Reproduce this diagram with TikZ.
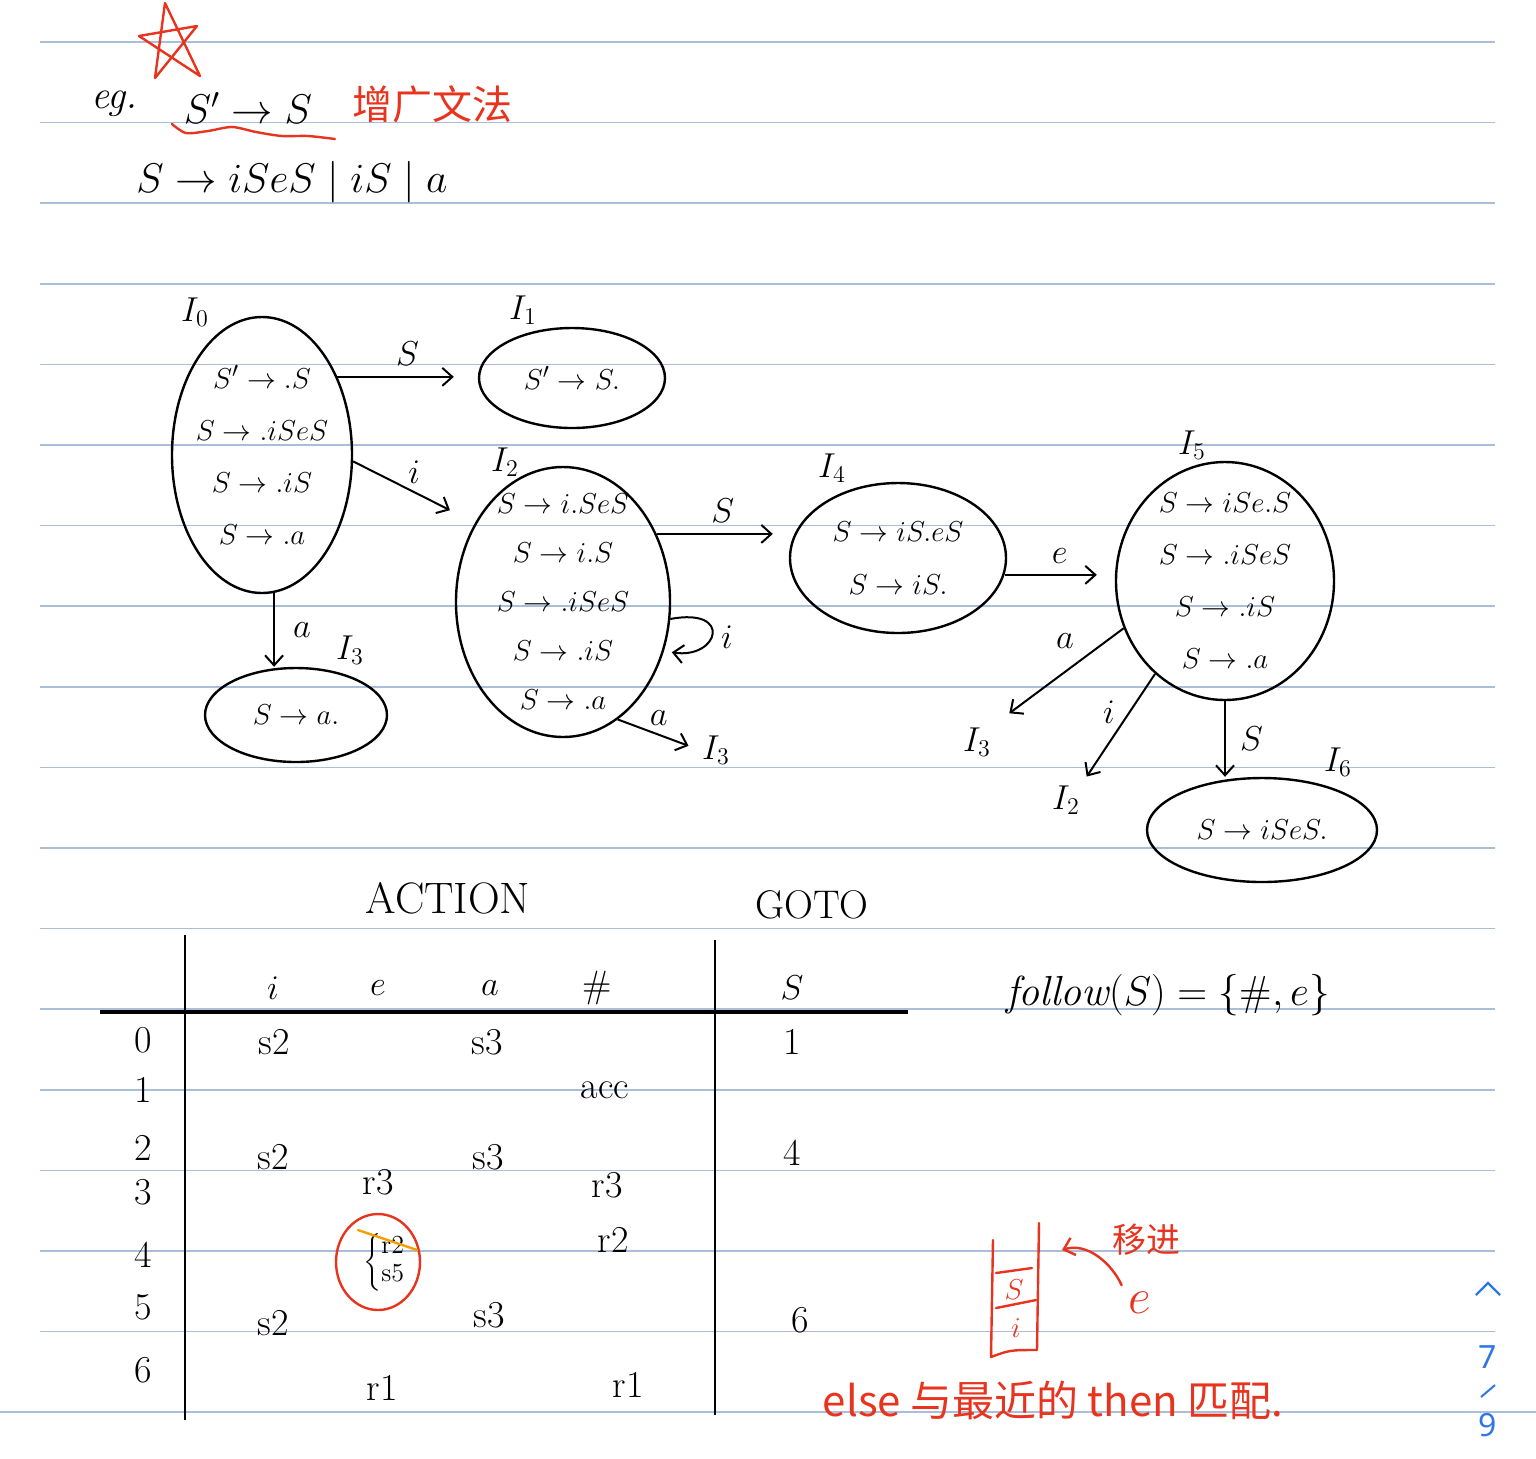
\documentclass[tikz,border=0pt]{standalone}
\usepackage{amsmath}
\usepackage{fontspec}
\usepackage{tikz}
\usetikzlibrary{positioning}
\usetikzlibrary{calc}
\usetikzlibrary{arrows.meta,shapes}
\newfontfamily\cjk{Noto Sans CJK SC}
\newfontfamily\uisans{Noto Sans}
\definecolor{rule}{RGB}{170,190,218}
\definecolor{pen}{RGB}{232,52,30}
\definecolor{hilite}{RGB}{245,160,0}
\definecolor{pageblue}{RGB}{48,118,228}
\def\itemfont{\fontsize{15}{26}\selectfont}

\tikzset{
  state/.style={draw, ellipse, line width=1.2pt, inner sep=0pt},
  items/.style={align=center, font=\itemfont, inner sep=0pt},
  tag/.style={font=\fontsize{17}{19}\selectfont, inner sep=1pt},
  arr/.style={-{Straight Barb[length=5pt,width=9pt]}, line width=1pt},
  redpen/.style={draw=pen, line width=1.2pt, line cap=round, line join=round},
  cell/.style={font=\fontsize{19}{21}\selectfont, inner sep=1pt},
}

\begin{document}
\begin{tikzpicture}[x=0.5pt, y=-0.5pt]

\useasboundingbox (0,0) rectangle (1536,1458);
\fill[white] (0,0) rectangle (1536,1458);

% ruled paper
\foreach \k in {0,...,16}
  \draw[rule, line width=0.8pt] (40, 42+80.6*\k) -- (1495, 42+80.6*\k);
\draw[rule, line width=0.8pt] (0,1412) -- (1536,1412);

% heading
\draw[redpen] (165,3) -- (200,76) -- (139,36) -- (197,26) -- (155,78) -- cycle;
\node[font=\fontsize{20}{22}\selectfont] (eg) at (114,104) {\itshape eg.};
\node[font=\fontsize{21}{24}\selectfont] (aug) at (248,108) {$S'\to S$};
\draw[redpen] plot[smooth] coordinates {(172,124) (186,133) (208,131) (232,127)
  (256,132) (282,136) (308,136) (335,139)};
\node[font=\cjk\fontsize{20}{22}\selectfont, text=pen] (augname) at (432,104) {增广文法};
\node[font=\fontsize{21}{24}\selectfont] (grammar) at (292,182) {$S\to iSeS\mid iS\mid a$};

% item sets
\node[state, minimum width=90pt, minimum height=138pt] (I0) at (262,455) {};
\node[items] (I0t) at (I0) {$S'\to .S$\\$S\to .iSeS$\\$S\to .iS$\\$S\to .a$};
\node[tag] (I0l) at (195,312) {$I_0$};

\node[state, font=\itemfont, minimum width=93pt, minimum height=50pt] (I1) at (572,378) {$S'\to S.$};
\node[tag] (I1l) at (523,310) {$I_1$};

\node[state, minimum width=107pt, minimum height=135pt] (I2) at (563,602) {};
\node[items, font=\fontsize{15}{24.5}\selectfont] (I2t) at (I2)
  {$S\to i.SeS$\\$S\to i.S$\\$S\to .iSeS$\\$S\to .iS$\\$S\to .a$};
\node[tag] (I2l) at (505,462) {$I_2$};

\node[state, font=\itemfont, minimum width=91pt, minimum height=47pt] (I3) at (296,715) {$S\to a.$};
\node[tag] (I3l) at (350,650) {$I_3$};

\node[state, minimum width=108pt, minimum height=75pt] (I4) at (898,558) {};
\node[items, font=\fontsize{15}{26.5}\selectfont] (I4t) at (I4) {$S\to iS.eS$\\$S\to iS.$};
\node[tag] (I4l) at (832,468) {$I_4$};

\node[state, minimum width=109pt, minimum height=119pt] (I5) at (1225,581) {};
\node[items] (I5t) at (I5) {$S\to iSe.S$\\$S\to .iSeS$\\$S\to .iS$\\$S\to .a$};
\node[tag] (I5l) at (1192,445) {$I_5$};

\node[state, font=\itemfont, minimum width=115pt, minimum height=52pt] (I6) at (1262,830) {$S\to iSeS.$};
\node[tag] (I6l) at (1338,762) {$I_6$};

% targets named only by their labels
\node[tag] (to3a) at (716,750) {$I_3$};
\node[tag] (to3b) at (977,742) {$I_3$};
\node[tag] (to2) at (1066,800) {$I_2$};

% transitions
\draw[arr, shorten >=12pt] (I0.46) -- (I0.46 -| I1.west) node[midway, above=4pt, tag] (eI0S) {$S$};
\draw[arr, shorten >=14pt] (I0.-4) -- (I2.138) node[midway, above=3pt, tag] (eI0i) {$i$};
\draw[arr] (I0.-85) -- (I0.-85 |- I3.north) node[midway, right=8pt, tag] (eI0a) {$a$};
\draw[arr, shorten >=8pt] (I2.36) -- (I2.36 -| I4.west) node[midway, above=4pt, tag] (eI2S) {$S$};
\draw[arr, shorten >=4pt] (I2.-9) .. controls +(63,-12) and +(55,8) .. (I2.-26)
  node[pos=0.55, right=4pt, tag] (eI2i) {$i$};
\draw[arr, shorten >=6pt] (I2.-65) -- (to3a.west) node[midway, above=3pt, tag] (eI2a) {$a$};
\draw[arr, shorten >=9pt] (I4.-9) -- (I4.-9 -| I5.west) node[midway, above=4pt, tag] (eI4e) {$e$};
\draw[arr, shorten >=10pt] (I5.205) -- (to3b.north east) node[pos=0.45, above=10pt, tag] (eI5a) {$a$};
\draw[arr, shorten >=4pt] (I5.233) -- (to2.north east) node[pos=0.35, left=6pt, tag] (eI5i) {$i$};
\draw[arr] (I5.south) -- (I5.south |- I6.north) node[midway, right=6pt, tag] (eI5S) {$S$};

% parsing table
\node[font=\fontsize{22}{24}\selectfont] (action) at (448,898) {ACTION};
\node[font=\fontsize{20}{22}\selectfont] (goto) at (812,905) {GOTO};
\draw[line width=1pt] (185,935) -- (185,1420);
\draw[line width=1pt] (715,940) -- (715,1415);
\draw[line width=1.6pt] (100,1012) -- (908,1012);

\foreach \t/\x [count=\k] in {i/273, e/378, a/490, \#/597, S/792}
  \node[cell] (head\k) at (\x,988) {$\t$};
\foreach \y [count=\k from 0] in {1040,1090,1148,1192,1255,1307,1370}
  \node[cell] (row\k) at (143,\y) {\k};
\foreach \t/\x/\y [count=\k] in {s2/274/1042, s3/487/1042, 1/792/1042, acc/605/1090,
    s2/273/1157, s3/488/1157, 4/792/1153, r3/378/1182, r3/607/1185, r2/613/1240,
    s2/273/1323, s3/489/1315, 6/800/1320, r1/382/1388, r1/628/1385}
  \node[cell] (entry\k) at (\x,\y) {\t};

% shift/reduce conflict
\node[cell, font=\fontsize{13}{14}\selectfont] (conflict) at (385,1262)
  {$\left\{\begin{array}{@{}l@{}}\mathrm{r2}\\\mathrm{s5}\end{array}\right.$};
\draw[redpen] (378,1262) ellipse[x radius=21pt, y radius=24pt];
\draw[hilite, line width=1.2pt, line cap=round] (358,1230) -- (417,1250);

\node[font=\fontsize{21}{24}\selectfont] (follow) at (1168,995) {$\mathit{follow}(S)=\{\#,e\}$};

% stack note
\draw[redpen] (993,1240) -- (991,1357) .. controls (1010,1350) .. (1037,1350) -- (1039,1223);
\draw[redpen] (996,1273) -- (1032,1268);
\draw[redpen] (996,1308) -- (1036,1300);
\node[text=pen, font=\fontsize{15}{17}\selectfont] (stackS) at (1014,1290) {$S$};
\node[text=pen, font=\fontsize{15}{17}\selectfont] (stacki) at (1016,1328) {$i$};
\node[text=pen, font=\cjk\fontsize{17}{18}\selectfont] (shiftin) at (1146,1240) {移进};
\node[text=pen, font=\fontsize{24}{26}\selectfont] (enext) at (1140,1303) {$e$};
\coordinate (stacktop) at (1062,1250);
\draw[arr, redpen] (enext.north west) .. controls +(-10,-22) and +(25,-8) .. (stacktop);
\node[text=pen, font=\cjk\fontsize{21}{24}\selectfont] (elsenote) at (1053,1400) {else 与最近的 then 匹配.};

% page indicator
\draw[pageblue, line width=1.2pt] (1476,1295) -- (1488,1283) -- (1500,1295);
\node[text=pageblue, font=\uisans\fontsize{16}{18}\selectfont] (pagenum) at (1488,1357) {7};
\draw[pageblue, line width=1pt] (1481,1397) -- (1495,1385);
\node[text=pageblue, font=\uisans\fontsize{16}{18}\selectfont] (pagetotal) at (1488,1425) {9};
\end{tikzpicture}
\end{document}
